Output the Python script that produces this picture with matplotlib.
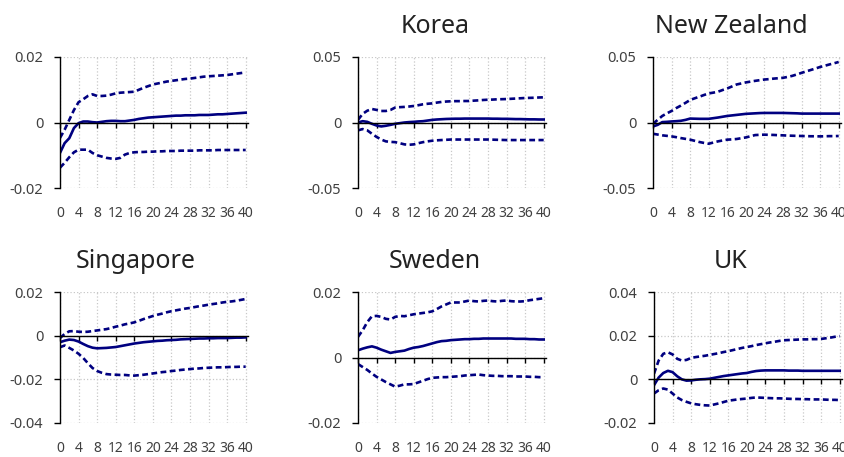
import numpy as np
import matplotlib.pyplot as plt

plt.rcParams['font.family'] = ['Noto Sans', 'DejaVu Sans']

## horizon (quarters)
periods = list(range(41))
xtick_vals = list(range(0, 41, 4))

## panel 1 (no title)
p1_mid = [-0.0093, -0.0063, -0.0048, -0.0017, -0.0002, 0.0003, 0.0003, 0.0001, 0.0000, 0.0002,
          0.0004, 0.0005, 0.0005, 0.0004, 0.0004, 0.0006, 0.0008, 0.0011, 0.0013, 0.0015,
          0.0016, 0.0017, 0.0018, 0.0019, 0.0020, 0.0021, 0.0021, 0.0022, 0.0022, 0.0022,
          0.0023, 0.0023, 0.0023, 0.0024, 0.0025, 0.0025, 0.0026, 0.0027, 0.0028, 0.0029, 0.0030]
p1_up = [-0.0047, -0.0022, 0.0008, 0.0038, 0.0062, 0.0071, 0.0081, 0.0086, 0.0081, 0.0081,
         0.0082, 0.0085, 0.0089, 0.0091, 0.0092, 0.0093, 0.0094, 0.0100, 0.0106, 0.0111,
         0.0116, 0.0119, 0.0122, 0.0125, 0.0127, 0.0129, 0.0131, 0.0133, 0.0134, 0.0136,
         0.0138, 0.0140, 0.0141, 0.0142, 0.0143, 0.0144, 0.0145, 0.0147, 0.0149, 0.0151, 0.0153]
p1_lo = [-0.0138, -0.0123, -0.0106, -0.0091, -0.0083, -0.0083, -0.0083, -0.0093, -0.0100, -0.0104,
         -0.0108, -0.0110, -0.0111, -0.0108, -0.0098, -0.0093, -0.0091, -0.0090, -0.0090, -0.0089,
         -0.0089, -0.0088, -0.0088, -0.0087, -0.0087, -0.0087, -0.0086, -0.0086, -0.0086, -0.0086,
         -0.0085, -0.0085, -0.0085, -0.0085, -0.0084, -0.0084, -0.0084, -0.0084, -0.0084, -0.0084, -0.0084]

## Korea
kor_mid = [0.0000, 0.0010, 0.0005, -0.0010, -0.0023, -0.0030, -0.0025, -0.0018, -0.0010, -0.0005,
           0.0000, 0.0003, 0.0005, 0.0008, 0.0010, 0.0015, 0.0020, 0.0023, 0.0025, 0.0027,
           0.0028, 0.0029, 0.0029, 0.0030, 0.0030, 0.0030, 0.0030, 0.0030, 0.0030, 0.0029,
           0.0029, 0.0028, 0.0028, 0.0027, 0.0026, 0.0026, 0.0025, 0.0024, 0.0024, 0.0023, 0.0023]
kor_up = [0.0020, 0.0066, 0.0090, 0.0103, 0.0096, 0.0088, 0.0088, 0.0096, 0.0114, 0.0117,
          0.0119, 0.0122, 0.0126, 0.0132, 0.0139, 0.0143, 0.0146, 0.0152, 0.0157, 0.0160,
          0.0162, 0.0163, 0.0163, 0.0164, 0.0164, 0.0167, 0.0169, 0.0172, 0.0174, 0.0175,
          0.0177, 0.0178, 0.0179, 0.0181, 0.0183, 0.0185, 0.0187, 0.0188, 0.0189, 0.0191, 0.0192]
kor_lo = [-0.0060, -0.0050, -0.0060, -0.0086, -0.0110, -0.0130, -0.0144, -0.0148, -0.0150, -0.0158,
          -0.0167, -0.0170, -0.0167, -0.0158, -0.0150, -0.0144, -0.0139, -0.0136, -0.0134, -0.0132,
          -0.0130, -0.0130, -0.0130, -0.0130, -0.0130, -0.0130, -0.0130, -0.0130, -0.0130, -0.0131,
          -0.0132, -0.0133, -0.0134, -0.0134, -0.0134, -0.0134, -0.0134, -0.0134, -0.0134, -0.0134, -0.0134]

## New Zealand
nz_mid = [-0.0030, -0.0018, 0.0003, 0.0005, 0.0008, 0.0010, 0.0013, 0.0020, 0.0030, 0.0029,
          0.0028, 0.0028, 0.0028, 0.0033, 0.0038, 0.0044, 0.0050, 0.0054, 0.0058, 0.0062,
          0.0066, 0.0068, 0.0070, 0.0072, 0.0073, 0.0073, 0.0073, 0.0073, 0.0073, 0.0072,
          0.0071, 0.0070, 0.0068, 0.0068, 0.0068, 0.0068, 0.0068, 0.0068, 0.0068, 0.0068, 0.0068]
nz_up = [-0.0010, 0.0020, 0.0050, 0.0070, 0.0088, 0.0110, 0.0129, 0.0150, 0.0172, 0.0185,
         0.0197, 0.0210, 0.0222, 0.0228, 0.0235, 0.0248, 0.0260, 0.0275, 0.0290, 0.0298,
         0.0306, 0.0312, 0.0318, 0.0323, 0.0328, 0.0331, 0.0335, 0.0338, 0.0341, 0.0348,
         0.0356, 0.0367, 0.0379, 0.0390, 0.0401, 0.0412, 0.0424, 0.0433, 0.0443, 0.0452, 0.0462]
nz_lo = [-0.0086, -0.0092, -0.0098, -0.0102, -0.0106, -0.0112, -0.0119, -0.0125, -0.0131, -0.0140,
         -0.0149, -0.0156, -0.0162, -0.0153, -0.0144, -0.0137, -0.0131, -0.0129, -0.0126, -0.0120,
         -0.0114, -0.0105, -0.0096, -0.0094, -0.0093, -0.0094, -0.0095, -0.0097, -0.0098, -0.0100,
         -0.0101, -0.0102, -0.0103, -0.0104, -0.0105, -0.0105, -0.0106, -0.0105, -0.0104, -0.0104, -0.0103]

## Singapore
sg_mid = [-0.0030, -0.0023, -0.0018, -0.0020, -0.0027, -0.0038, -0.0048, -0.0055, -0.0058, -0.0057,
          -0.0056, -0.0054, -0.0052, -0.0048, -0.0044, -0.0040, -0.0036, -0.0033, -0.0030, -0.0028,
          -0.0026, -0.0024, -0.0023, -0.0021, -0.0020, -0.0019, -0.0017, -0.0016, -0.0015, -0.0014,
          -0.0013, -0.0013, -0.0012, -0.0012, -0.0011, -0.0011, -0.0011, -0.0010, -0.0009, -0.0009, -0.0008]
sg_up = [-0.0011, 0.0008, 0.0020, 0.0021, 0.0018, 0.0017, 0.0018, 0.0021, 0.0024, 0.0027,
         0.0030, 0.0035, 0.0041, 0.0046, 0.0052, 0.0056, 0.0061, 0.0068, 0.0076, 0.0083,
         0.0090, 0.0096, 0.0101, 0.0107, 0.0112, 0.0116, 0.0120, 0.0124, 0.0127, 0.0131,
         0.0135, 0.0138, 0.0142, 0.0145, 0.0148, 0.0152, 0.0155, 0.0157, 0.0160, 0.0164, 0.0168]
sg_lo = [-0.0053, -0.0045, -0.0056, -0.0068, -0.0083, -0.0102, -0.0126, -0.0148, -0.0162, -0.0170,
         -0.0176, -0.0178, -0.0179, -0.0180, -0.0180, -0.0182, -0.0183, -0.0181, -0.0179, -0.0176,
         -0.0173, -0.0170, -0.0167, -0.0165, -0.0162, -0.0160, -0.0157, -0.0155, -0.0153, -0.0151,
         -0.0150, -0.0148, -0.0147, -0.0146, -0.0145, -0.0145, -0.0144, -0.0143, -0.0143, -0.0142, -0.0142]

## Sweden
se_mid = [0.0022, 0.0027, 0.0031, 0.0034, 0.0030, 0.0024, 0.0019, 0.0014, 0.0017, 0.0019,
          0.0021, 0.0026, 0.0030, 0.0032, 0.0035, 0.0039, 0.0043, 0.0047, 0.0050, 0.0051,
          0.0053, 0.0054, 0.0055, 0.0056, 0.0056, 0.0057, 0.0057, 0.0058, 0.0058, 0.0058,
          0.0058, 0.0058, 0.0058, 0.0058, 0.0057, 0.0057, 0.0057, 0.0056, 0.0056, 0.0055, 0.0055]
se_up = [0.0063, 0.0083, 0.0108, 0.0126, 0.0127, 0.0124, 0.0118, 0.0116, 0.0124, 0.0127,
         0.0126, 0.0129, 0.0132, 0.0134, 0.0136, 0.0138, 0.0141, 0.0148, 0.0156, 0.0162,
         0.0168, 0.0168, 0.0168, 0.0171, 0.0174, 0.0172, 0.0171, 0.0173, 0.0174, 0.0172,
         0.0171, 0.0173, 0.0174, 0.0172, 0.0171, 0.0171, 0.0172, 0.0175, 0.0177, 0.0179, 0.0181]
se_lo = [-0.0020, -0.0029, -0.0038, -0.0049, -0.0059, -0.0067, -0.0075, -0.0082, -0.0089, -0.0086,
         -0.0082, -0.0082, -0.0081, -0.0076, -0.0071, -0.0066, -0.0062, -0.0061, -0.0060, -0.0060,
         -0.0059, -0.0058, -0.0057, -0.0055, -0.0054, -0.0053, -0.0052, -0.0054, -0.0055, -0.0056,
         -0.0056, -0.0057, -0.0057, -0.0057, -0.0058, -0.0058, -0.0058, -0.0059, -0.0059, -0.0060, -0.0060]

## UK
uk_mid = [-0.0027, 0.0008, 0.0029, 0.0039, 0.0033, 0.0014, 0.0000, -0.0006, -0.0005, -0.0002,
          0.0000, 0.0001, 0.0003, 0.0007, 0.0011, 0.0015, 0.0018, 0.0021, 0.0024, 0.0027,
          0.0029, 0.0034, 0.0038, 0.0040, 0.0041, 0.0041, 0.0041, 0.0041, 0.0041, 0.0040,
          0.0040, 0.0040, 0.0039, 0.0039, 0.0039, 0.0039, 0.0039, 0.0039, 0.0039, 0.0039, 0.0039]
uk_up = [0.0026, 0.0086, 0.0117, 0.0124, 0.0114, 0.0094, 0.0086, 0.0089, 0.0098, 0.0102,
         0.0105, 0.0108, 0.0112, 0.0116, 0.0120, 0.0125, 0.0129, 0.0134, 0.0139, 0.0144,
         0.0148, 0.0152, 0.0157, 0.0161, 0.0165, 0.0169, 0.0172, 0.0176, 0.0179, 0.0180,
         0.0181, 0.0182, 0.0183, 0.0183, 0.0184, 0.0184, 0.0185, 0.0188, 0.0191, 0.0195, 0.0198]
uk_lo = [-0.0065, -0.0050, -0.0042, -0.0047, -0.0065, -0.0083, -0.0095, -0.0103, -0.0110, -0.0114,
         -0.0117, -0.0119, -0.0120, -0.0115, -0.0110, -0.0104, -0.0098, -0.0095, -0.0092, -0.0090,
         -0.0088, -0.0085, -0.0083, -0.0084, -0.0085, -0.0086, -0.0087, -0.0087, -0.0088, -0.0089,
         -0.0090, -0.0090, -0.0091, -0.0091, -0.0092, -0.0092, -0.0092, -0.0093, -0.0094, -0.0094, -0.0095]

titles = ['', 'Korea', 'New Zealand', 'Singapore', 'Sweden', 'UK']
yticks = [[-0.02, 0, 0.02], [-0.05, 0, 0.05], [-0.05, 0, 0.05],
          [-0.04, -0.02, 0, 0.02], [-0.02, 0, 0.02], [-0.02, 0, 0.02, 0.04]]
series = [(p1_mid, p1_up, p1_lo), (kor_mid, kor_up, kor_lo), (nz_mid, nz_up, nz_lo),
          (sg_mid, sg_up, sg_lo), (se_mid, se_up, se_lo), (uk_mid, uk_up, uk_lo)]

W, H = 844, 457
line_col = '#000080'
tick_col = '#404040'

# pixel boxes: left, top, width, height
boxes = [(60, 57, 188, 131), (358, 57, 188, 131), (653, 57, 188, 131),
         (60, 292, 188, 131), (358, 292, 188, 131), (654, 292, 188, 131)]
title_pos = [(137, 33), (435, 33), (731, 33), (136, 268), (435, 268), (731, 268)]


def yfmt(v, pos=None):
    if abs(v) < 1e-12:
        return '0'
    return f'{v:g}'


fig = plt.figure(figsize=(W / 100, H / 100), dpi=100)

for i in range(6):
    l, t, w, h = boxes[i]
    ax = fig.add_axes([l / W, (H - t - h) / H, w / W, h / H])
    mid, up, lo = series[i]
    ax.plot(periods, up, color=line_col, lw=1.9, dashes=(2.2, 1.3))
    ax.plot(periods, lo, color=line_col, lw=1.9, dashes=(2.2, 1.3))
    ax.plot(periods, mid, color=line_col, lw=1.9)

    yt = yticks[i]
    ax.set_xlim(0, 40.5)
    ax.set_ylim(yt[0], yt[-1])
    ax.set_yticks(yt)
    ax.yaxis.set_major_formatter(plt.FuncFormatter(yfmt))
    ax.set_xticks(xtick_vals)

    ax.grid(True, color='#c8c8c8', linestyle=':', linewidth=0.9)
    ax.set_axisbelow(True)
    ax.spines['top'].set_visible(False)
    ax.spines['right'].set_visible(False)
    # category axis crosses at zero
    ax.spines['bottom'].set_position(('data', 0))
    ax.spines['bottom'].set_zorder(3)
    ax.spines['left'].set_linewidth(1.0)
    ax.spines['bottom'].set_linewidth(1.0)
    ax.tick_params(axis='x', direction='out', length=3.5, width=1.0, labelbottom=False)
    ax.tick_params(axis='y', direction='out', length=4, width=1.0, pad=8,
                   labelsize=10.5, labelcolor=tick_col)

    # labels sit low, under the plot area
    lab = ax.secondary_xaxis('bottom')
    lab.set_xticks(xtick_vals)
    lab.set_xticklabels([str(v) for v in xtick_vals])
    lab.tick_params(axis='x', length=0, pad=13, labelsize=10, labelcolor=tick_col)
    for s in lab.spines.values():
        s.set_visible(False)

    if titles[i]:
        tx, ty = title_pos[i]
        fig.text(tx / W, (H - ty) / H, titles[i], ha='center', va='baseline',
                 fontsize=18, color='#222222', fontweight='light')

fig.savefig('out.png', dpi=100)
